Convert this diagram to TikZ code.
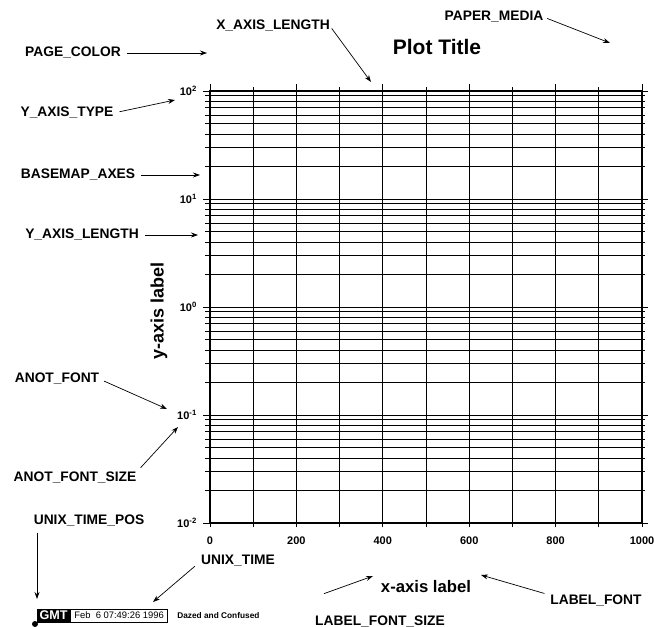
\documentclass[tikz,border=0pt]{standalone}
\usepackage{fontspec}
\setmainfont{Liberation Sans}
\usetikzlibrary{arrows.meta,positioning,calc}

\tikzset{
  lbl/.style={inner sep=0pt,font=\bfseries\fontsize{13.8}{15}\selectfont},
  anot/.style={inner sep=0pt,font=\bfseries\fontsize{11}{12}\selectfont},
  ptr/.style={-{Stealth[length=7pt,width=5pt]},line width=0.7pt},
  gridln/.style={line width=0.9pt},
}

\begin{document}
\begin{tikzpicture}[x=1pt,y=-1pt]
\useasboundingbox (0,0) rectangle (654,627);

% log10 grid, 4 decades
\foreach \d in {0,...,3}{
  \foreach \m in {2,...,9}{
    \pgfmathsetmacro{\yy}{523-108*(\d+log10(\m))}
    \draw[gridln] (205,\yy) -- (645,\yy);
  }
}
\foreach \d in {0,...,4}
  \draw[gridln] (203,523-108*\d) -- (648,523-108*\d);
\foreach \i in {0,...,10}{
  \pgfmathsetmacro{\xx}{210+43.2*\i}
  \pgfmathsetmacro{\ytop}{isodd(\i) ? 87 : 84}
  \draw[gridln] (\xx,\ytop) -- (\xx,527);
}
\draw[line width=1.6pt] (210,91) rectangle (642,523);

% annotations
\foreach \e/\d in {-2/0,-1/1,0/2,1/3,2/4}
  \node[anot,anchor=base east] (yt\d) at (197,527-108*\d) {10\textsuperscript{\e}};
\foreach \v in {0,200,...,1000}
  \node[anot] (xt\v) at (210+0.432*\v,541) {\v};

\node[font=\bfseries\fontsize{21}{23}\selectfont] (title) at (437,47) {Plot Title};
\node[font=\bfseries\fontsize{16.7}{18}\selectfont,inner sep=0pt] (xlabel) at (426,587) {x-axis label};
\node[font=\bfseries\fontsize{18}{20}\selectfont,inner sep=0pt,rotate=90] (ylabel) at (159,311) {y-axis label};

% time stamp
\node[draw,line width=0.8pt,inner xsep=4pt,inner ysep=0pt,minimum height=13pt,anchor=west,
  font=\fontsize{9.4}{10}\selectfont] (stamp) at (70,615.5) {Feb~~6 07:49:26 1996};
\node[draw,fill=black,text=white,line width=0.8pt,inner xsep=2pt,inner ysep=0pt,minimum height=13pt,
  anchor=east,font=\bfseries\fontsize{12.6}{13}\selectfont] (gmt) at (stamp.west) {GMT};
\node[right=9pt of stamp,inner sep=0pt,font=\bfseries\fontsize{8.3}{9}\selectfont] (cmd) {Dazed and Confused};
\node[circle,fill=black,inner sep=0pt,minimum size=6pt] (origin) at (35,624) {};

% parameter names
\node[lbl] (pagecolor) at (73,53) {PAGE\_COLOR};
\node[lbl] (xlength) at (273,26) {X\_AXIS\_LENGTH};
\node[lbl] (papermedia) at (494,17) {PAPER\_MEDIA};
\node[lbl] (ytype) at (67,113) {Y\_AXIS\_TYPE};
\node[lbl] (basemap) at (78,175) {BASEMAP\_AXES};
\node[lbl] (ylength) at (82,235) {Y\_AXIS\_LENGTH};
\node[lbl] (anotfont) at (57,379) {ANOT\_FONT};
\node[lbl] (anotsize) at (75,478) {ANOT\_FONT\_SIZE};
\node[lbl] (unixpos) at (89,521) {UNIX\_TIME\_POS};
\node[lbl] (unixtime) at (238,561) {UNIX\_TIME};
\node[lbl] (lblfont) at (596,601) {LABEL\_FONT};
\node[lbl] (lblsize) at (380,621.5) {LABEL\_FONT\_SIZE};

\coordinate (pagecolortip) at (207,53);
\coordinate (xlengthtip) at (371,82);
\coordinate (papermediatip) at (610,43);
\coordinate (ytypetip) at (175,100);
\coordinate (basemaptip) at (200,175);
\coordinate (ylengthtip) at (198,235);
\coordinate (anotfonttip) at (167,409);
\coordinate (anotsizetip) at (178,427);
\coordinate (unixpostip) at (37,599);
\coordinate (unixtimetip) at (153,602);
\coordinate (lblfonttip) at (481,575);
\coordinate (lblsizetip) at (373,576);
\coordinate (lblsizetail) at ($(lblsize.north west)+(9,-22)$);

\draw[ptr,shorten <=6pt] (pagecolor) -- (pagecolortip);
\draw[ptr,shorten <=3pt] (xlength.east) -- (xlengthtip);
\draw[ptr,shorten <=4pt] (papermedia.east) -- (papermediatip);
\draw[ptr,shorten <=6pt] (ytype.east) -- (ytypetip);
\draw[ptr,shorten <=6pt] (basemap.east) -- (basemaptip);
\draw[ptr,shorten <=6pt] (ylength.east) -- (ylengthtip);
\draw[ptr,shorten <=5pt] (anotfont.east) -- (anotfonttip);
\draw[ptr,shorten <=6pt] (anotsize.north east) -- (anotsizetip);
\draw[ptr,shorten <=6pt] (unixpostip |- unixpos.south) -- (unixpostip);
\draw[ptr,shorten <=8pt] (unixtime.west) -- (unixtimetip);
\draw[ptr,shorten <=6pt] (lblfont.north west) -- (lblfonttip);
\draw[ptr] (lblsizetail) -- (lblsizetip);
\end{tikzpicture}
\end{document}
